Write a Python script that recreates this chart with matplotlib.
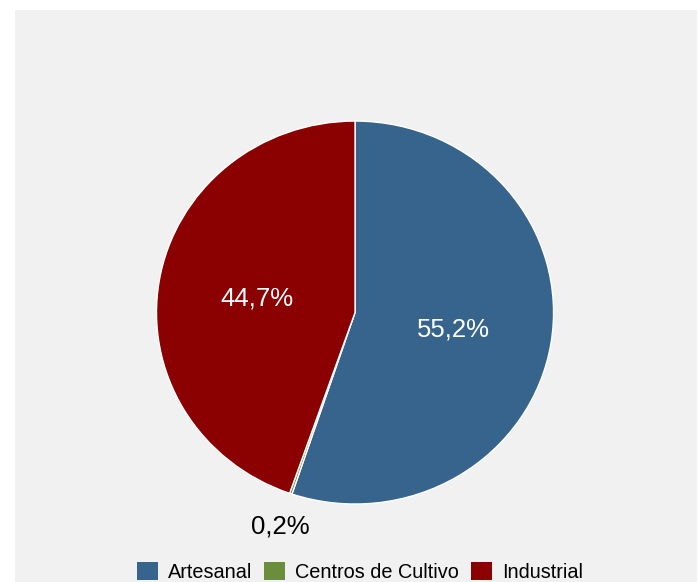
import numpy as np
import matplotlib.pyplot as plt
from matplotlib.patches import Rectangle

plt.rcParams['font.family'] = ['Liberation Sans', 'DejaVu Sans']

# datos
categorias = ['Artesanal', 'Centros de Cultivo', 'Industrial']
valores = [55.2, 0.2, 44.7]
etiquetas = ['55,2%', '0,2%', '44,7%']
colores = ['#37648c', '#6b8e3a', '#8b0000']

fig = plt.figure(figsize=(6.99, 5.82), dpi=100)
fig.patch.set_facecolor('white')

# panel gris de fondo
fondo = Rectangle((15/699, 0), 682/699, 572/582, transform=fig.transFigure,
                  facecolor='#f1f1f1', edgecolor='none', zorder=-10)
fig.add_artist(fondo)

ax = fig.add_axes([0.2239, 0.134, 0.568, 0.658])
wedges, _ = ax.pie(valores, colors=colores, startangle=90, counterclock=False,
                   wedgeprops=dict(edgecolor='white', linewidth=1))
ax.set_aspect('auto')
ax.set_xlim(-1, 1)
ax.set_ylim(-1, 1)
ax.patch.set_visible(False)

for w, lab in zip(wedges, etiquetas):
    ang = np.deg2rad((w.theta1 + w.theta2) / 2)
    if w.theta2 - w.theta1 < 5:
        d, col = 1.17, 'black'
    else:
        d, col = 0.5, 'white'
    ax.text(d * np.cos(ang), d * np.sin(ang) - 0.01, lab, ha='center', va='center',
            color=col, fontsize=18.5)

handles = [Rectangle((0, 0), 1, 1, facecolor=c) for c in colores]
fig.legend(handles, categorias, loc='center', bbox_to_anchor=(0.515, 0.018), ncol=3,
           frameon=False, fontsize=14.3, handlelength=1.05, handleheight=1.05,
           handletextpad=0.5, columnspacing=0.6)

fig.savefig('out.png', dpi=100)
